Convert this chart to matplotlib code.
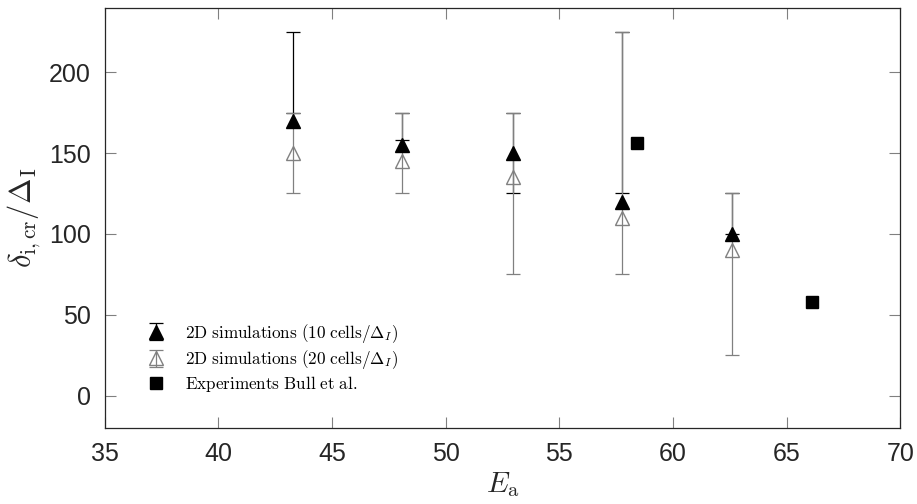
import matplotlib
matplotlib.use("Agg")
import numpy as np
import matplotlib.pyplot as plt

plt.rcParams['mathtext.fontset'] = 'cm'
plt.rcParams['font.family'] = ['Liberation Sans', 'DejaVu Sans']

# activation energy of each simulation
E_sim = [43.3, 48.1, 52.96, 57.75, 62.6]

# 10 cells per Delta_I
delta_10 = [170, 155, 150, 120, 100]
lo_10 = [175, 158, 125, 125, 100]
hi_10 = [225, 175, 175, 225, 125]

# 20 cells per Delta_I
delta_20 = [150, 145, 135, 110, 90]
lo_20 = [125, 125, 75, 75, 25]
hi_20 = [175, 175, 175, 225, 125]

# experiments (Bull et al.)
E_exp = [58.4, 66.1]
delta_exp = [156, 58]

black = 'k'
grey = '#808080'
txt = '#262626'

fig = plt.figure(figsize=(9.17, 5.04), dpi=100)
ax = fig.add_axes([0.114, 0.151, 0.868, 0.834])


def bar(ax, lo, hi, c, z):
    lo, hi = np.array(lo, float), np.array(hi, float)
    ax.errorbar(E_sim, (lo + hi) / 2, yerr=(hi - lo) / 2, fmt='none',
                ecolor=c, elinewidth=0.9, capsize=4.8, capthick=0.9, zorder=z)


bar(ax, lo_10, hi_10, black, 2)
bar(ax, lo_20, hi_20, grey, 3)
ax.plot(E_sim, delta_10, '^', color=black, ms=10, zorder=4)
ax.plot(E_sim, delta_20, '^', mfc='none', mec=grey, mew=1.0, ms=10, zorder=4)
ax.plot(E_exp, delta_exp, 's', color=black, ms=8.5, zorder=4)

# legend entries only (no data)
h1 = ax.errorbar([np.nan], [np.nan], yerr=[1], fmt='^', color=black, ms=10,
                 elinewidth=0.9, capsize=4.8, capthick=0.9)
h2 = ax.errorbar([np.nan], [np.nan], yerr=[1], fmt='^', color=grey, mfc='none',
                 mec=grey, ms=10, elinewidth=0.9, capsize=4.8, capthick=0.9)
h3, = ax.plot([np.nan], [np.nan], 's', color=black, ms=8.5)
labels = [r'$\mathrm{2D\ simulations\ (10\ cells}/\Delta_I)$',
          r'$\mathrm{2D\ simulations\ (20\ cells}/\Delta_I)$',
          r'$\mathrm{Experiments\ Bull\ et\ al.}$']

ax.set_xlim(35, 70)
ax.set_ylim(-20, 240)
ax.set_xticks(np.arange(35, 71, 5))
ax.set_yticks([0, 50, 100, 150, 200])

ax.tick_params(direction='in', length=8, width=0.8, color='#808080',
               labelcolor=txt, labelsize=18, top=True, right=True, pad=10)
for s in ax.spines.values():
    s.set_color(txt)
    s.set_linewidth(0.9)

ax.set_xlabel(r'$E_{\mathrm{a}}$', fontsize=21, color=txt, labelpad=3)
ax.set_ylabel(r'$\delta_{\mathrm{i,cr}}/\Delta_{\mathrm{I}}$', fontsize=22,
              color=txt, labelpad=4)

ax.legend([h1, h2, h3], labels, loc='lower left', bbox_to_anchor=(0.033, 0.043),
          frameon=False, fontsize=12.3, handlelength=1.2, handletextpad=1.1,
          labelspacing=0.2)

plt.savefig('out.png', dpi=100)
